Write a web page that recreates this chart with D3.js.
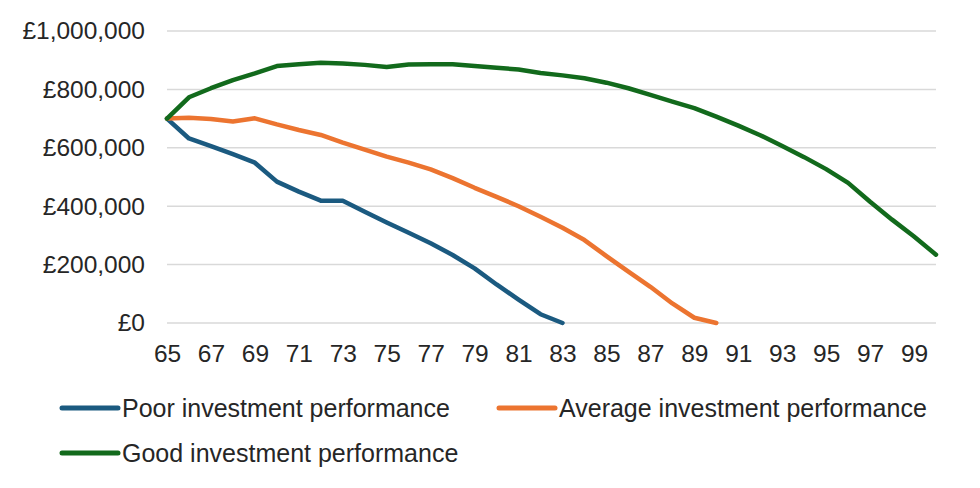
<!DOCTYPE html>
<html>
<head>
	<meta charset="UTF-8">
	<title>Investment performance</title>
	<script src="https://cdn.jsdelivr.net/npm/d3@7"></script>
	<style>
		body { margin: 0; background: #fff; }
		text { font-family: "Liberation Sans", Arial, sans-serif; fill: #262626; }
	</style>
</head>
<body>
	<script>
		// data
		var ages = d3.range(65, 101);
		var poor = [700000, 632000, 606000, 578000, 549000, 484000, 450000, 419000, 419000, 381000,
			344000, 309000, 273000, 233000, 187000, 132000, 80000, 30000, 0];
		var average = [700000, 703000, 699000, 690000, 701000, 680000, 661000, 644000, 618000, 594000,
			570000, 549000, 526000, 496000, 463000, 432000, 400000, 364000, 326000, 284000,
			229000, 176000, 124000, 67000, 18000, 0];
		var good = [700000, 773000, 804000, 832000, 855000, 880000, 886000, 891000, 889000, 884000,
			877000, 885000, 886000, 886000, 880000, 874000, 868000, 856000, 848000, 838000,
			823000, 804000, 781000, 758000, 736000, 707000, 676000, 643000, 606000, 568000,
			527000, 480000, 415000, 354000, 296000, 234000];
		var yTicks = [0, 200000, 400000, 600000, 800000, 1000000];
		var xTicks = d3.range(65, 100, 2);

		var series = [
			{name: 'Poor investment performance', values: poor, color: '#1b5a80'},
			{name: 'Average investment performance', values: average, color: '#ec7430'},
			{name: 'Good investment performance', values: good, color: '#126a1c'}
		];

		var width = 980, height = 488;
		var margin = {top: 31, right: 44, bottom: 165, left: 167};

		var x = d3.scaleLinear().domain([65, 100]).range([margin.left, width - margin.right]);
		var y = d3.scaleLinear().domain([0, 1000000]).range([height - margin.bottom, margin.top]);

		var svg = d3.select('body')
			.append('svg')
			.attr('width', width)
			.attr('height', height);

		// gridlines
		svg.append('g')
			.selectAll('line')
			.data(yTicks)
			.enter().append('line')
			.attr('x1', x(65))
			.attr('x2', x(100))
			.attr('y1', function(d) { return y(d); })
			.attr('y2', function(d) { return y(d); })
			.attr('stroke', '#d9d9d9')
			.attr('stroke-width', 1.5);

		// Y axis labels
		var fmt = d3.format(',');
		var yAxis = svg.append('g')
			.attr('transform', 'translate(' + (margin.left - 22) + ',0)')
			.call(d3.axisLeft(y).tickValues(yTicks).tickSize(0).tickPadding(0)
				.tickFormat(function(d) { return '£' + fmt(d); }));
		yAxis.select('.domain').remove();
		yAxis.selectAll('text')
			.style('font-size', '24.5px')
			.style('font-family', '"Liberation Sans", Arial, sans-serif')
			.attr('fill', '#262626');

		// X axis labels
		var xAxis = svg.append('g')
			.attr('transform', 'translate(0,' + y(0) + ')')
			.call(d3.axisBottom(x).tickValues(xTicks).tickSize(0).tickPadding(22));
		xAxis.select('.domain').remove();
		xAxis.selectAll('text')
			.style('font-size', '24.5px')
			.style('font-family', '"Liberation Sans", Arial, sans-serif')
			.attr('fill', '#262626');

		// lines
		var line = d3.line()
			.x(function(d, i) { return x(ages[i]); })
			.y(function(d) { return y(d); });

		svg.append('g')
			.selectAll('path')
			.data(series)
			.enter().append('path')
			.attr('d', function(d) { return line(d.values); })
			.attr('fill', 'none')
			.attr('stroke', function(d) { return d.color; })
			.attr('stroke-width', 4.5)
			.attr('stroke-linejoin', 'round')
			.attr('stroke-linecap', 'round');

		// legend
		var legendPos = [[60, 408], [497, 408], [60, 453]];
		var legend = svg.append('g')
			.selectAll('g')
			.data(series)
			.enter().append('g')
			.attr('transform', function(d, i) { return 'translate(' + legendPos[i][0] + ',' + legendPos[i][1] + ')'; });
		legend.append('line')
			.attr('x1', 2).attr('x2', 58)
			.attr('stroke', function(d) { return d.color; })
			.attr('stroke-width', 5)
			.attr('stroke-linecap', 'round');
		legend.append('text')
			.attr('x', 62)
			.attr('dy', '0.36em')
			.style('font-size', '25px')
			.text(function(d) { return d.name; });
	</script>
</body>
</html>
